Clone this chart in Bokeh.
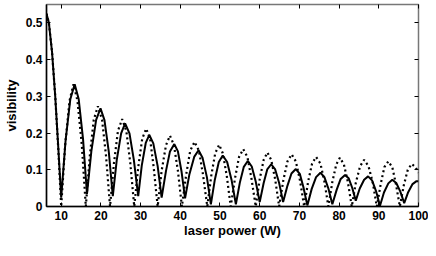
from bokeh.plotting import figure
from bokeh.models import Range1d, LinearAxis, FixedTicker, ColumnDataSource, CustomLabelingPolicy
from bokeh.embed import file_html
from bokeh.resources import INLINE

# x tick positions and y tick positions
x_ticks = [10, 20, 30, 40, 50, 60, 70, 80, 90, 100]
y_ticks = [0, 0.1, 0.2, 0.3, 0.4, 0.5]

# solid curve
solid_power = [
    6.3, 6.9, 7.7, 8.5, 9.3, 10.0,
    11.1, 12.3, 13.4, 14.4, 15.5, 16.5,
    17.6, 18.8, 19.9, 20.9, 22.0, 23.0,
    24.0, 25.1, 26.1, 27.2, 28.3, 29.4,
    30.3, 31.3, 32.2, 33.2, 34.3, 35.3,
    36.4, 37.4, 38.5, 39.4, 40.3, 41.2,
    42.3, 43.5, 44.6, 45.6, 46.7, 47.7,
    48.7, 49.7, 50.7, 51.8, 52.9, 54.0,
    55.0, 56.0, 57.0, 58.0, 59.0, 60.0,
    61.0, 61.9, 62.9, 63.9, 64.9, 65.9,
    67.0, 68.0, 69.1, 70.1, 71.0, 72.0,
    73.1, 74.2, 75.3, 76.3, 77.3, 78.3,
    79.4, 80.4, 81.5, 82.4, 83.3, 84.2,
    85.2, 86.3, 87.3, 88.3, 89.3, 90.3,
    91.3, 92.4, 93.4, 94.4, 95.4, 96.4,
    97.4, 98.5, 99.5, 100.0,
]
solid_vis = [
    0.525, 0.500, 0.420, 0.300, 0.155, 0.024,
    0.179, 0.292, 0.333, 0.293, 0.184, 0.034,
    0.151, 0.236, 0.267, 0.235, 0.148, 0.028,
    0.127, 0.199, 0.226, 0.199, 0.127, 0.028,
    0.112, 0.173, 0.195, 0.172, 0.110, 0.024,
    0.097, 0.150, 0.170, 0.150, 0.096, 0.022,
    0.088, 0.135, 0.153, 0.133, 0.080, 0.006,
    0.073, 0.121, 0.139, 0.121, 0.073, 0.006,
    0.065, 0.108, 0.124, 0.109, 0.068, 0.012,
    0.064, 0.101, 0.115, 0.101, 0.064, 0.012,
    0.057, 0.090, 0.102, 0.089, 0.053, 0.003,
    0.048, 0.080, 0.092, 0.080, 0.049, 0.006,
    0.046, 0.075, 0.086, 0.077, 0.051, 0.016,
    0.049, 0.073, 0.082, 0.071, 0.042, 0.002,
    0.038, 0.063, 0.073, 0.064, 0.041, 0.009,
    0.039, 0.061, 0.069, 0.069,
]

# dotted curve
dotted_power = [
    6.3, 6.9, 7.7, 8.5, 9.3, 10.0,
    11.0, 12.1, 13.1, 14.1, 15.2, 16.2,
    17.2, 18.2, 19.25, 20.3, 21.3, 22.3,
    23.3, 24.3, 25.35, 26.4, 27.4, 28.4,
    29.4, 30.4, 31.4, 32.4, 33.3, 34.3,
    35.3, 36.4, 37.4, 38.4, 39.4, 40.4,
    41.5, 42.5, 43.6, 44.7, 45.7, 46.8,
    47.8, 48.8, 49.8, 50.7, 51.7, 52.7,
    53.8, 54.8, 55.85, 56.9, 57.9, 59.0,
    60.0, 61.0, 61.95, 62.9, 63.9, 64.9,
    65.95, 67.0, 68.05, 69.1, 70.15, 71.2,
    72.2, 73.2, 74.2, 75.3, 76.3, 77.3,
    78.3, 79.3, 80.2, 81.2, 82.2, 83.2,
    84.2, 85.3, 86.3, 87.4, 88.5, 89.5,
    90.5, 91.4, 92.4, 93.4, 94.3, 95.3,
    96.3, 97.3, 98.3, 99.3, 100.0,
]
dotted_vis = [
    0.525, 0.500, 0.420, 0.300, 0.150, 0.000,
    0.167, 0.288, 0.333, 0.288, 0.167, 0.000,
    0.137, 0.236, 0.273, 0.236, 0.137, 0.000,
    0.119, 0.206, 0.238, 0.206, 0.119, 0.000,
    0.106, 0.184, 0.212, 0.184, 0.106, 0.000,
    0.097, 0.167, 0.193, 0.167, 0.097, 0.000,
    0.088, 0.152, 0.176, 0.152, 0.088, 0.000,
    0.084, 0.145, 0.168, 0.145, 0.084, 0.000,
    0.078, 0.135, 0.156, 0.135, 0.078, 0.000,
    0.074, 0.127, 0.147, 0.127, 0.074, 0.000,
    0.071, 0.123, 0.142, 0.123, 0.071, 0.000,
    0.068, 0.117, 0.135, 0.117, 0.068, 0.000,
    0.067, 0.115, 0.133, 0.115, 0.067, 0.000,
    0.064, 0.110, 0.127, 0.110, 0.064, 0.000,
    0.062, 0.107, 0.123, 0.107, 0.062, 0.000,
    0.058, 0.100, 0.116, 0.106, 0.092,
]

FONT = "Liberation Sans"

p = figure(width=428, height=240, output_backend="svg", toolbar_location=None,
           x_range=Range1d(6.3, 100), y_range=Range1d(0, 0.55),
           min_border_left=0, min_border_right=10, min_border_top=1, min_border_bottom=0,
           background_fill_color="white", border_fill_color="white")
p.grid.visible = False
p.outline_line_color = "#777777"
p.outline_line_width = 1.5

solid_src = ColumnDataSource(dict(x=solid_power, y=solid_vis))
dotted_src = ColumnDataSource(dict(x=dotted_power, y=dotted_vis))
p.line("x", "y", source=dotted_src, line_color="black", line_width=2.2, line_dash="2 3")
p.line("x", "y", source=solid_src, line_color="black", line_width=2)

for ax in (p.xaxis[0], p.yaxis[0]):
    ax.major_tick_in = 4
    ax.major_tick_out = 0
    ax.minor_tick_line_color = None
    ax.axis_line_color = "black"
    ax.axis_line_width = 1.5
    ax.major_tick_line_color = "black"
    ax.major_label_text_font = FONT
    ax.major_label_text_font_style = "bold"
    ax.major_label_text_font_size = "12px"
    ax.major_label_text_color = "black"
    ax.axis_label_text_font = FONT
    ax.axis_label_text_font_style = "bold"
    ax.axis_label_text_font_size = "13px"
    ax.axis_label_text_color = "black"

p.xaxis[0].ticker = FixedTicker(ticks=x_ticks)
p.yaxis[0].ticker = FixedTicker(ticks=y_ticks)
p.xaxis[0].axis_label = "laser power (W)"
p.yaxis[0].axis_label = "visibility"
p.xaxis[0].major_label_standoff = 4
p.yaxis[0].major_label_standoff = 4
p.xaxis[0].axis_label_standoff = 0
p.yaxis[0].axis_label_standoff = 4

# box ticks on the top and right sides, without labels
top = LinearAxis(ticker=FixedTicker(ticks=x_ticks), major_label_text_font_size="1px",
                 major_label_policy=CustomLabelingPolicy(code="return []"),
                 major_tick_in=4, major_tick_out=0, minor_tick_line_color=None,
                 axis_line_color=None, major_label_standoff=0)
right = LinearAxis(ticker=FixedTicker(ticks=y_ticks), major_label_text_font_size="1px",
                   major_label_policy=CustomLabelingPolicy(code="return []"),
                   major_tick_in=4, major_tick_out=0, minor_tick_line_color=None,
                   axis_line_color=None, major_label_standoff=0)
p.add_layout(top, "above")
p.add_layout(right, "right")

open("out.html", "w").write(file_html(p, INLINE))
